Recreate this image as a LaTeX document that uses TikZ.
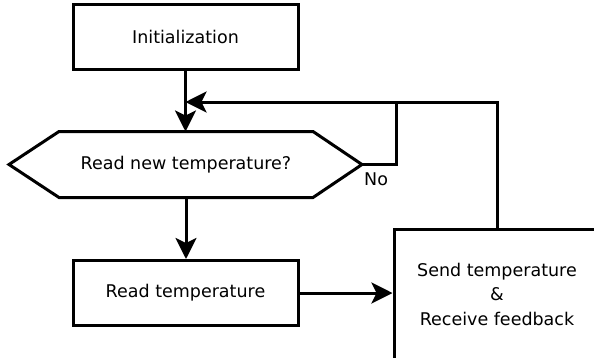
\documentclass[tikz,border=0pt]{standalone}
\usepackage{fontspec}
\setmainfont{DejaVu Sans}
\usetikzlibrary{arrows.meta,positioning,calc}

\begin{document}
\begin{tikzpicture}[x=1pt,y=-1pt,
  box/.style={draw=black, line width=3pt, minimum width=225pt, minimum height=65pt,
    inner sep=0pt, font=\fontsize{17.5}{24.5}\selectfont, align=center},
  flow/.style={draw=black, line width=3pt, -{Stealth[length=21pt,width=21pt,inset=5pt]}},
  link/.style={draw=black, line width=3pt}]
\useasboundingbox (0,0) rectangle (594,357);
\clip (0,0) rectangle (594,357);
%% blocks
\node[box] (init) at (185.5,36.5) {Initialization};
\node[box, draw=none, minimum width=251pt, minimum height=63pt] (decide) at (186,164.5) {Read new temperature?};
\coordinate (tipL) at ($(decide.west)+(-50,0)$);
\coordinate (tipR) at ($(decide.east)+(49,0)$);
\draw[link, line join=miter] (decide.north west) -- (decide.north east) -- (tipR)
  -- (decide.south east) -- (decide.south west) -- (tipL) -- cycle;
\node[box] (read) at (185.5,293) {Read temperature};
\node[box, minimum width=206pt, minimum height=130pt] (send) at (497,294) {Send temperature\\\&\\Receive feedback};
%% loop back
\coordinate (loop) at (396,102);
\coordinate (merge) at (init.south |- loop);
\node[font=\fontsize{17.5}{20}\selectfont, anchor=north west, inner sep=0pt] (no) at ($(tipR)+(2,8)$) {No};
%% arrows
\draw[flow] (init.south) -- (init.south |- decide.north);
\draw[flow] (decide.south) -- (decide.south |- read.north);
\draw[flow] (read.east) -- (read.east -| send.west);
\draw[link] (tipR) -- (tipR -| loop) -- (loop);
\draw[flow] (send.north) |- (merge);

\end{tikzpicture}
\end{document}
